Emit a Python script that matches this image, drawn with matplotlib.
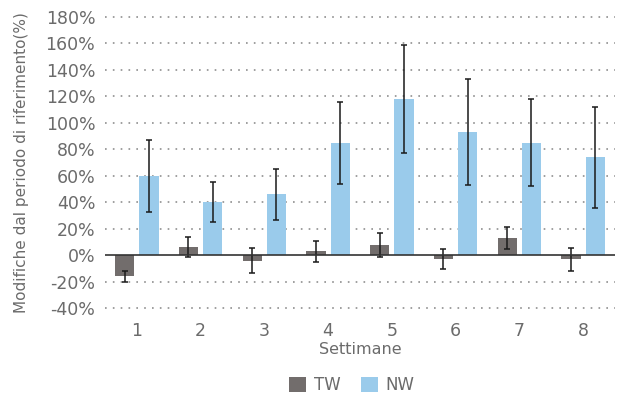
import matplotlib.pyplot as plt
import numpy as np

# values (%)
weeks = ["1", "2", "3", "4", "5", "6", "7", "8"]
tw = [-16, 6, -4, 3, 8, -3, 13, -3]
tw_err = [4.5, 7.5, 9.5, 8, 9, 7.5, 8, 8.5]
nw = [60, 40, 46, 85, 118, 93, 85, 74]
nw_err = [27, 15, 19, 31, 41, 40, 33, 38]
yticks = list(range(-40, 181, 20))

grey_txt = "#6b6b6b"
tw_col = "#726d6c"
nw_col = "#9acbeb"

fig = plt.figure(figsize=(6.23, 3.99), dpi=100)
ax = fig.add_axes([0.1685, 0.2273, 0.8186, 0.7308])

x = np.arange(len(weeks))
w = 0.3
off = 0.19

# dotted grid lines
for t in yticks:
    if t == 0:
        continue
    ax.axhline(t, color="#8f8f8f", lw=1.2, ls=(0, (1, 3.7)), clip_on=False, zorder=0)

ax.bar(x - off, tw, w, color=tw_col, label="TW", zorder=2)
ax.bar(x + off, nw, w, color=nw_col, label="NW", zorder=2)
ax.errorbar(x - off, tw, yerr=tw_err, fmt="none", ecolor="#1a1a1a",
            elinewidth=1.1, capsize=2.5, capthick=1.1, zorder=3)
ax.errorbar(x + off, nw, yerr=nw_err, fmt="none", ecolor="#1a1a1a",
            elinewidth=1.1, capsize=2.5, capthick=1.1, zorder=3)
ax.axhline(0, color="#333333", lw=1.2, zorder=4)

ax.set_xlim(-0.5, len(weeks) - 0.5)
ax.set_ylim(-40, 180)
ax.set_yticks(yticks)
ax.set_yticklabels([f"{t}%" for t in yticks])
ax.set_xticks(x)
ax.set_xticklabels(weeks)
ax.tick_params(length=0, colors=grey_txt, labelsize=12.5)
ax.tick_params(axis="y", pad=7)
ax.tick_params(axis="x", pad=10)
for s in ax.spines.values():
    s.set_visible(False)

ax.set_xlabel("Settimane", color=grey_txt, fontsize=11.5, labelpad=1)
ax.set_ylabel("Modifiche dal periodo di riferimento(%)", color=grey_txt,
              fontsize=11, labelpad=12)

leg = fig.legend(loc="center", bbox_to_anchor=(0.565, 0.035), ncol=2,
                 frameon=False, fontsize=12, handlelength=1.0, handleheight=1.0,
                 columnspacing=1.2, handletextpad=0.5)
for t in leg.get_texts():
    t.set_color(grey_txt)

plt.savefig("out.png", dpi=100)
